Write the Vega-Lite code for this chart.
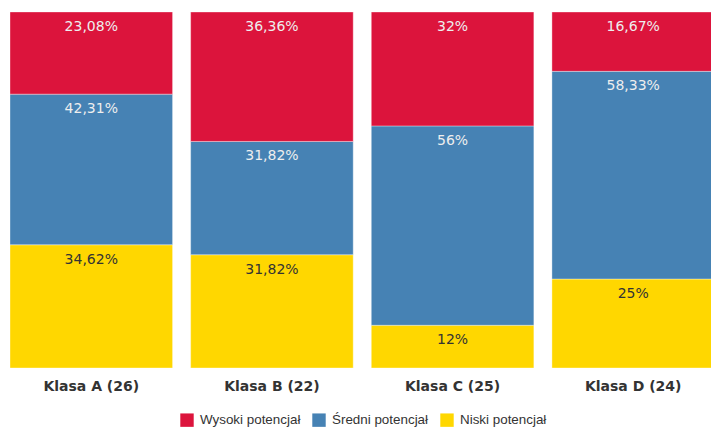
{
  "$schema": "https://vega.github.io/schema/vega-lite/v6.json",
  "width": 711,
  "height": 356,
  "autosize": {"type": "none"},
  "padding": {"left": 0, "top": 12, "right": 0, "bottom": 59},
  "background": "white",
  "config": {"view": {"stroke": null}},
  "data": {
    "values": [
      {"klasa": "Klasa A (26)", "kategoria": "Niski potencjał", "kolejnosc": 1, "procent": 34.62, "etykieta": "34,62%"},
      {"klasa": "Klasa A (26)", "kategoria": "Średni potencjał", "kolejnosc": 2, "procent": 42.31, "etykieta": "42,31%"},
      {"klasa": "Klasa A (26)", "kategoria": "Wysoki potencjał", "kolejnosc": 3, "procent": 23.08, "etykieta": "23,08%"},
      {"klasa": "Klasa B (22)", "kategoria": "Niski potencjał", "kolejnosc": 1, "procent": 31.82, "etykieta": "31,82%"},
      {"klasa": "Klasa B (22)", "kategoria": "Średni potencjał", "kolejnosc": 2, "procent": 31.82, "etykieta": "31,82%"},
      {"klasa": "Klasa B (22)", "kategoria": "Wysoki potencjał", "kolejnosc": 3, "procent": 36.36, "etykieta": "36,36%"},
      {"klasa": "Klasa C (25)", "kategoria": "Niski potencjał", "kolejnosc": 1, "procent": 12, "etykieta": "12%"},
      {"klasa": "Klasa C (25)", "kategoria": "Średni potencjał", "kolejnosc": 2, "procent": 56, "etykieta": "56%"},
      {"klasa": "Klasa C (25)", "kategoria": "Wysoki potencjał", "kolejnosc": 3, "procent": 32, "etykieta": "32%"},
      {"klasa": "Klasa D (24)", "kategoria": "Niski potencjał", "kolejnosc": 1, "procent": 25, "etykieta": "25%"},
      {"klasa": "Klasa D (24)", "kategoria": "Średni potencjał", "kolejnosc": 2, "procent": 58.33, "etykieta": "58,33%"},
      {"klasa": "Klasa D (24)", "kategoria": "Wysoki potencjał", "kolejnosc": 3, "procent": 16.67, "etykieta": "16,67%"}
    ]
  },
  "transform": [
    {"stack": "procent", "groupby": ["klasa"], "sort": [{"field": "kolejnosc", "order": "ascending"}], "as": ["y0", "y1"]}
  ],
  "encoding": {
    "x": {
      "field": "klasa",
      "type": "nominal",
      "sort": null,
      "scale": {"range": [10, 714.5], "paddingInner": 0.1, "paddingOuter": 0},
      "axis": {
        "title": null,
        "domain": false,
        "ticks": false,
        "labelAngle": 0,
        "labelFont": "DejaVu Sans",
        "labelFontSize": 14,
        "labelFontWeight": "bold",
        "labelColor": "#333333",
        "labelPadding": 11
      }
    }
  },
  "layer": [
    {
      "mark": {"type": "bar", "stroke": "white", "strokeWidth": 0.6, "strokeOpacity": 0.6},
      "encoding": {
        "y": {"field": "y0", "type": "quantitative", "scale": {"domain": [0, 100]}, "axis": null},
        "y2": {"field": "y1"},
        "color": {
          "field": "kategoria",
          "type": "nominal",
          "scale": {
            "domain": ["Wysoki potencjał", "Średni potencjał", "Niski potencjał"],
            "range": ["#DC143C", "#4682B4", "#FFD700"]
          },
          "legend": {
            "title": null,
            "orient": "none",
            "direction": "horizontal",
            "legendX": 180,
            "legendY": 401,
            "symbolType": "square",
            "symbolSize": 180,
            "symbolStrokeWidth": 0,
            "symbolOpacity": 1,
            "labelFont": "Liberation Sans",
            "labelFontSize": 13.4,
            "labelColor": "#333333",
            "labelOffset": 6,
            "columnPadding": 11
          }
        }
      }
    },
    {
      "mark": {"type": "text", "font": "DejaVu Sans", "fontSize": 14, "baseline": "middle", "dy": 15},
      "encoding": {
        "y": {"field": "y1", "type": "quantitative"},
        "text": {"field": "etykieta"},
        "color": {
          "condition": {"test": "datum.kategoria === 'Niski potencjał'", "value": "#333333"},
          "value": "#eeeeee"
        }
      }
    }
  ]
}
